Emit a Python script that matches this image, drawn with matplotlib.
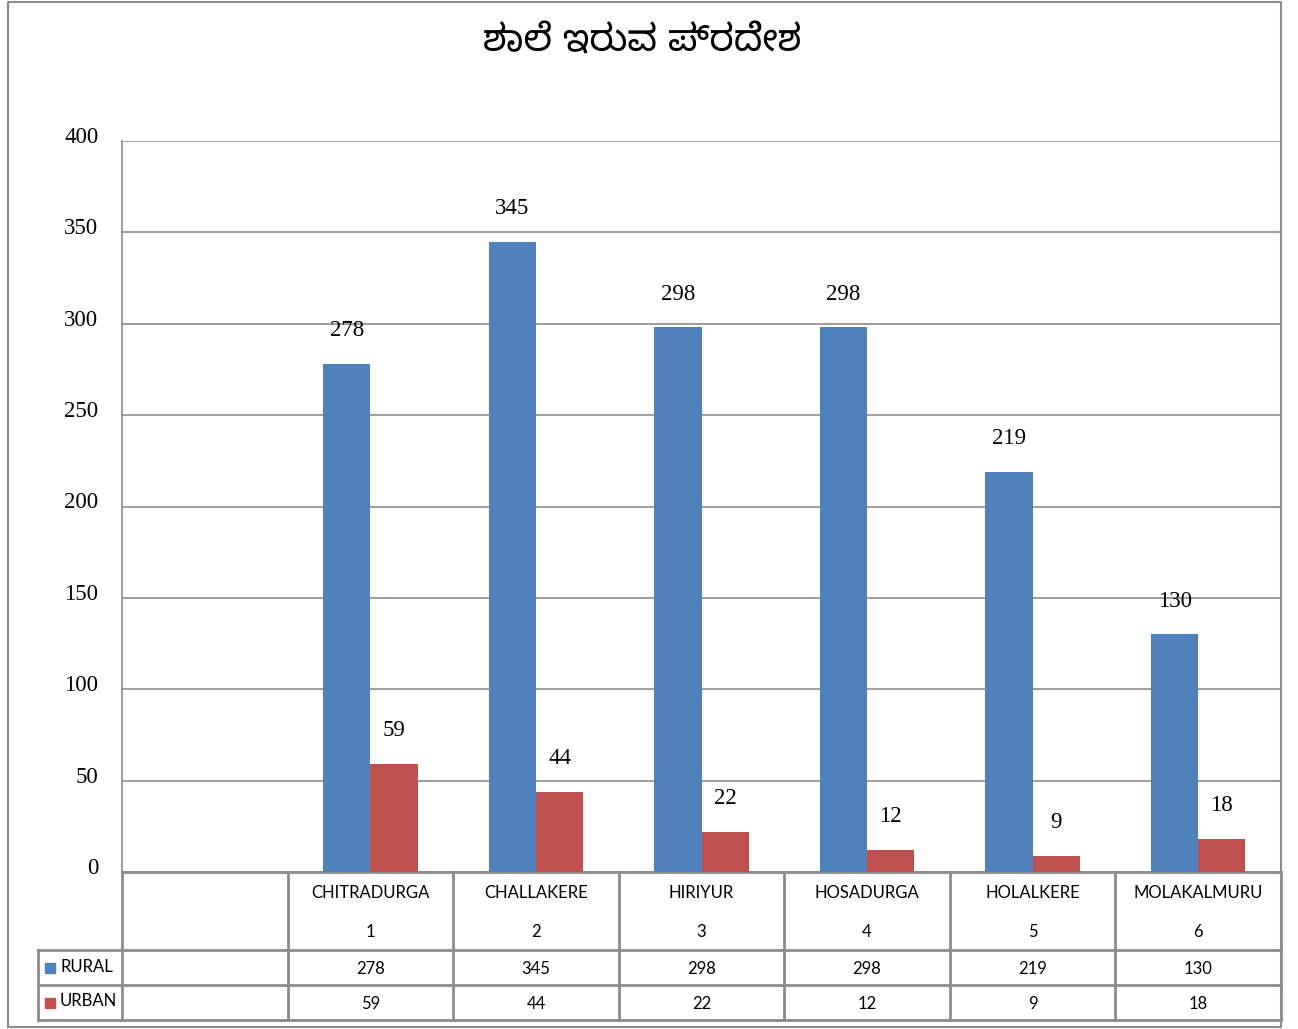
import matplotlib
matplotlib.use('Agg')
import matplotlib.pyplot as plt
from matplotlib.transforms import ScaledTranslation
import numpy as np

title = 'ಶಾಲೆ ಇರುವ ಪ್ರದೇಶ'
districts = ['CHITRADURGA', 'CHALLAKERE', 'HIRIYUR', 'HOSADURGA', 'HOLALKERE', 'MOLAKALMURU']
numbers = ['1', '2', '3', '4', '5', '6']
rural = [278, 345, 298, 298, 219, 130]
urban = [59, 44, 22, 12, 9, 18]
series = ['RURAL', 'URBAN']
colors = ['#4F81BD', '#C0504D']
yticks = [0, 50, 100, 150, 200, 250, 300, 350, 400]

W, H = 1298, 1029
grid_c = '#8C8C8C'
serif = ['Liberation Serif', 'DejaVu Serif']
sans = ['Lato', 'DejaVu Sans']

def box(x0, y0, x1, y1):
    return [x0 / W, 1 - y1 / H, (x1 - x0) / W, (y1 - y0) / H]

fig = plt.figure(figsize=(W / 100, H / 100), dpi=100)

# background layer in pixel coords: border + table
bg = fig.add_axes([0, 0, 1, 1])
bg.set_xlim(0, W)
bg.set_ylim(H, 0)
bg.axis('off')

L, R, T, B = 122, 1281, 141, 872
colw = (R - L) / 7
edges = [L + i * colw for i in range(8)]

# outer border
bg.plot([8, 8, 1281, 1281], [1027, 2, 2, 1027], color=grid_c, lw=1.5)
bg.plot([8, 1281], [1027, 1027], color=grid_c, lw=1.5)

# table lines
rows_y = [872, 950, 985, 1020]
bg.plot([L, R], [872, 872], color=grid_c, lw=2)
for y in rows_y[1:]:
    bg.plot([38, R], [y, y], color=grid_c, lw=2)
for x in edges:
    bg.plot([x, x], [872, 1020], color=grid_c, lw=2)
bg.plot([38, 38], [950, 1020], color=grid_c, lw=2)

# table text
fs = 12
for i, name in enumerate(districts):
    cx = L + (i + 1.5) * colw
    bg.text(cx, 893, name, ha='center', va='center', fontsize=fs, family=sans)
    bg.text(cx, 932, numbers[i], ha='center', va='center', fontsize=fs, family=sans)
    bg.text(cx, 969, str(rural[i]), ha='center', va='center', fontsize=fs, family=sans)
    bg.text(cx, 1004, str(urban[i]), ha='center', va='center', fontsize=fs, family=sans)
for j, (name, c) in enumerate(zip(series, colors)):
    yc = (rows_y[j + 1] + rows_y[j + 2]) / 2
    bg.add_patch(plt.Rectangle((45, yc - 5), 10, 10, color=c))
    bg.text(60, yc - 1, name, ha='left', va='center', fontsize=fs, family=sans)

# title
bg.text(642, 42, title, ha='center', va='center', fontsize=27, fontweight='bold',
        family=['Noto Sans Kannada', 'Noto Sans', 'DejaVu Sans'])

# main chart
ax = fig.add_axes(box(L, T, R, B))
ax.patch.set_alpha(0)
x = np.arange(1, 7)
w = 0.285
b1 = ax.bar(x - w / 2, rural, w, color=colors[0], zorder=3)
b2 = ax.bar(x + w / 2, urban, w, color=colors[1], zorder=3)
for bars, vals in ((b1, rural), (b2, urban)):
    for bar, v in zip(bars, vals):
        ax.annotate(str(v), (bar.get_x() + bar.get_width() / 2, v), xytext=(0, 24),
                    textcoords='offset points', ha='center', va='center',
                    fontsize=16.5, family=serif)
ax.set_xlim(-0.5, 6.5)
ax.set_ylim(0, 400)
ax.set_yticks(yticks)
ax.set_xticks([])
ax.yaxis.grid(True, color=grid_c, lw=1.2)
ax.set_axisbelow(True)
for s in ['top', 'right', 'bottom']:
    ax.spines[s].set_visible(False)
ax.spines['left'].set_color(grid_c)
ax.spines['left'].set_linewidth(1.2)
ax.tick_params(axis='y', length=0, pad=17, labelsize=16.5)
off = ScaledTranslation(0, 0.06, fig.dpi_scale_trans)
for lab in ax.get_yticklabels():
    lab.set_family(serif)
    lab.set_transform(lab.get_transform() + off)

fig.savefig('out.png', dpi=100)
